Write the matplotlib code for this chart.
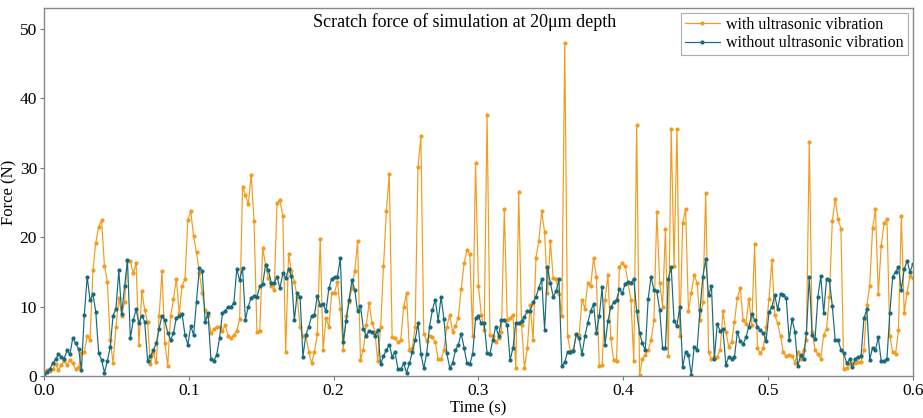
import numpy as np
import matplotlib
matplotlib.use("Agg")
import matplotlib.pyplot as plt

# scratch force readings (N), sampled evenly over 0 - 0.6 s
force_with = [
    0.3, 0.9, 0.7, 1.0, 1.7, 0.9, 1.6, 2.2, 1.6, 2.3, 1.8, 1.0, 1.3, 3.3, 3.5, 5.7, 5.2, 15.2, 19.2, 21.5,
    22.4, 15.9, 13.6, 5.2, 1.9, 7.1, 11.2, 8.7, 10.7, 16.5,
    16.5, 14.8, 16.2, 4.5, 12.3, 9.5, 7.8, 1.7, 3.3, 2.0, 8.6, 15.1, 4.7, 1.5, 8.6, 11.1, 14.0, 9.0, 13.0, 14.0,
    22.5, 23.7, 20.1, 17.8, 14.8, 11.9, 9.5, 8.6, 6.2, 6.7, 7.1, 7.0, 6.5, 7.3, 5.7,
    5.4, 5.9, 6.5, 8.2, 27.2, 26.1, 24.7, 29.0, 22.3, 6.4, 6.5, 18.4, 16.0, 14.1, 12.9, 12.4, 24.9, 25.4, 23.0, 3.5,
    17.5, 15.1, 13.6, 11.4, 7.1, 5.7, 5.9, 3.5, 1.8, 3.5, 6.1, 19.7,
    3.8, 8.3, 7.1, 12.0, 12.0, 13.6, 9.7, 3.8, 8.6, 10.7, 12.6, 15.1, 19.4, 2.3, 3.8, 7.3, 10.5, 7.7, 6.4, 2.1,
    7.0, 15.8, 23.7, 29.1, 5.6, 5.4, 4.9, 5.2, 9.9, 11.9, 3.8, 4.0,
    7.0, 30.1, 34.5, 6.1, 5.1, 5.8, 5.6, 4.9, 2.4, 2.4, 3.7, 7.1, 8.8, 6.4, 7.2, 8.4, 12.5, 16.2, 18.1, 17.6,
    5.8, 30.7, 13.0, 8.8, 6.6, 37.6, 5.9, 5.7, 4.9, 5.4, 6.4, 24.0,
    8.1, 8.3, 8.8, 1.1, 26.5, 7.3, 1.1, 4.0, 10.2, 5.2, 17.0, 19.5, 23.7, 20.7, 11.9, 19.4, 14.1, 14.0, 11.8, 8.6,
    47.9, 5.7, 3.5, 3.8, 5.9, 5.9, 11.0, 9.7, 13.4, 12.9, 17.0,
    14.2, 1.4, 1.6, 11.0, 14.5, 5.4, 2.3, 2.2, 15.7, 16.2, 15.8, 13.4, 11.0, 2.1, 36.2, 0.1, 2.5, 3.0, 3.7, 5.2,
    8.0, 23.6, 13.4, 10.0, 21.1, 2.9, 35.6, 15.9, 35.6, 5.7, 22.1, 24.0, 9.4,
    12.0, 14.5, 13.4, 8.0, 10.6, 26.4, 3.4, 2.4, 2.7, 2.8, 3.7, 9.3, 6.4, 4.2, 4.9, 7.8, 11.3, 12.6, 8.1, 7.5,
    11.1, 7.4, 19.0, 4.0, 3.3, 4.0, 7.0, 11.1, 16.7, 8.8, 7.6, 5.7,
    3.4, 2.9, 3.0, 2.9, 1.9, 3.4, 2.5, 3.7, 5.2, 33.7, 6.4, 3.8, 3.1, 2.5, 5.9, 6.8, 11.4, 22.3, 25.5, 22.6,
    21.2, 1.0, 1.2, 1.7, 1.8, 1.8, 2.0, 2.0, 3.8, 10.2, 12.9, 21.3, 24.0, 11.8, 18.7, 22.0, 22.6, 5.8, 3.4, 3.2,
    6.6, 23.1, 9.1, 12.0, 14.4, 14.1,
]

force_without = [
    0.3, 0.6, 1.0, 1.8, 2.4, 3.1, 2.8, 2.5, 3.7, 3.1, 5.5, 4.7, 3.9, 0.9, 8.8, 14.3, 10.9, 11.8, 9.2, 3.3,
    2.3, 0.5, 2.1, 4.2, 8.7, 9.7, 15.2, 8.9, 12.9, 16.7,
    5.4, 8.0, 9.6, 7.6, 8.7, 7.8, 2.2, 2.9, 3.7, 4.7, 6.8, 8.7, 8.0, 6.2, 5.2, 6.2, 8.4, 8.6, 8.9, 5.9,
    4.5, 7.2, 5.9, 10.7, 15.6, 15.1, 7.8, 9.0, 2.5, 2.2, 3.0, 5.4, 9.0, 9.4, 10.0,
    10.0, 10.5, 15.4, 13.8, 15.6, 8.1, 10.0, 11.3, 11.5, 11.4, 12.9, 13.2, 16.0, 15.2, 13.4, 13.4, 14.3, 12.6, 14.8, 14.1,
    15.4, 14.4, 8.0, 11.9, 11.4, 2.8, 5.9, 7.1, 8.6, 8.8, 11.5, 10.2,
    10.4, 9.3, 12.6, 14.0, 14.3, 14.3, 17.0, 4.9, 7.9, 11.0, 13.8, 12.4, 9.3, 10.1, 6.8, 5.8, 6.5, 6.4, 5.8, 6.6,
    1.7, 2.9, 3.7, 4.5, 2.8, 3.5, 1.0, 1.0, 1.8, 0.5, 1.8, 3.4,
    5.2, 7.6, 3.2, 1.1, 3.2, 7.1, 9.5, 11.0, 7.9, 11.4, 8.2, 3.3, 1.2, 1.8, 3.7, 4.5, 6.1, 4.1, 1.9, 1.7,
    3.2, 8.3, 8.6, 7.6, 7.6, 3.3, 3.2, 5.2, 7.1, 5.8, 8.1, 8.0,
    7.4, 2.3, 4.0, 7.7, 7.6, 7.9, 8.5, 9.4, 9.4, 10.6, 11.4, 12.7, 13.9, 6.6, 15.7, 13.4, 11.4, 12.2, 13.9, 1.4,
    2.0, 3.5, 3.5, 3.6, 6.0, 5.4, 3.1, 5.7, 7.7, 9.3, 10.4, 6.2,
    8.6, 12.8, 4.5, 7.9, 9.9, 10.6, 11.0, 12.5, 11.9, 13.3, 13.6, 13.4, 14.0, 9.3, 6.2, 4.7, 3.7, 11.1, 14.3, 12.4,
    12.2, 9.5, 4.0, 4.0, 14.0, 15.7, 7.9, 7.2, 10.0, 1.3, 3.5, 3.0,
    0.1, 4.2, 3.8, 9.5, 14.3, 16.8, 11.6, 12.9, 2.5, 7.5, 6.5, 6.7, 1.6, 2.8, 2.5, 2.8, 6.3, 5.0, 4.6, 5.6,
    7.1, 8.9, 8.1, 7.1, 6.6, 6.2, 5.1, 9.2, 10.0, 11.6, 9.6, 11.8,
    11.7, 11.2, 5.2, 8.2, 6.4, 1.4, 3.0, 2.5, 6.2, 14.3, 5.9, 5.3, 11.4, 14.4, 9.1, 13.9, 13.8, 10.1, 5.2, 5.2,
    3.8, 3.3, 1.8, 2.4, 1.3, 2.5, 2.7, 2.9, 8.3, 9.6, 2.3, 4.1, 3.7, 5.6, 2.1, 2.2, 2.5, 9.1, 14.3, 15.0,
    15.7, 12.4, 15.4, 16.6, 15.0, 16.1,
]

time_with = np.linspace(0, 0.6, len(force_with))
time_without = np.linspace(0, 0.6, len(force_without))

x_ticks = [0.0, 0.1, 0.2, 0.3, 0.4, 0.5, 0.6]
y_ticks = [0, 10, 20, 30, 40, 50]

plt.rcParams['font.family'] = ['Liberation Serif', 'DejaVu Serif']

fig = plt.figure(figsize=(9.23, 4.18), dpi=100)
ax = fig.add_subplot(111)
fig.subplots_adjust(left=0.0477, right=0.989, bottom=0.1005, top=0.981)

ax.plot(time_with, force_with, color='#f29b1c', linestyle='-', linewidth=0.85,
        marker='o', markersize=2.0, label='with ultrasonic vibration')
ax.plot(time_without, force_without, color='#156a7c', linestyle='-', linewidth=0.85,
        marker='o', markersize=2.0, label='without ultrasonic vibration')

ax.set_xlim(0, 0.6)
ax.set_ylim(0, 53)
ax.set_xticks(x_ticks)
ax.set_yticks(y_ticks)
ax.set_xticklabels(['%.1f' % t for t in x_ticks])
ax.tick_params(labelsize=12.5, length=3, width=0.8, color='#777777', pad=2)

ax.set_xlabel("Time (s)", fontsize=12, labelpad=1)
ax.set_ylabel("Force (N)", fontsize=12, labelpad=2)

ax.text(0.484, 0.962, "Scratch force of simulation at 20\u03bcm depth", transform=ax.transAxes,
        ha='center', va='center', fontsize=13)

for s in ax.spines.values():
    s.set_color('#888888')
    s.set_linewidth(1.0)

leg = ax.legend(loc='upper right', fontsize=11.5, frameon=True, fancybox=False,
                borderaxespad=0.3, handlelength=2.2, handletextpad=0.4,
                borderpad=0.25, labelspacing=0.15)
leg.get_frame().set_edgecolor('#999999')
leg.get_frame().set_linewidth(0.8)

plt.savefig("out.png", dpi=100)
plt.close(fig)
